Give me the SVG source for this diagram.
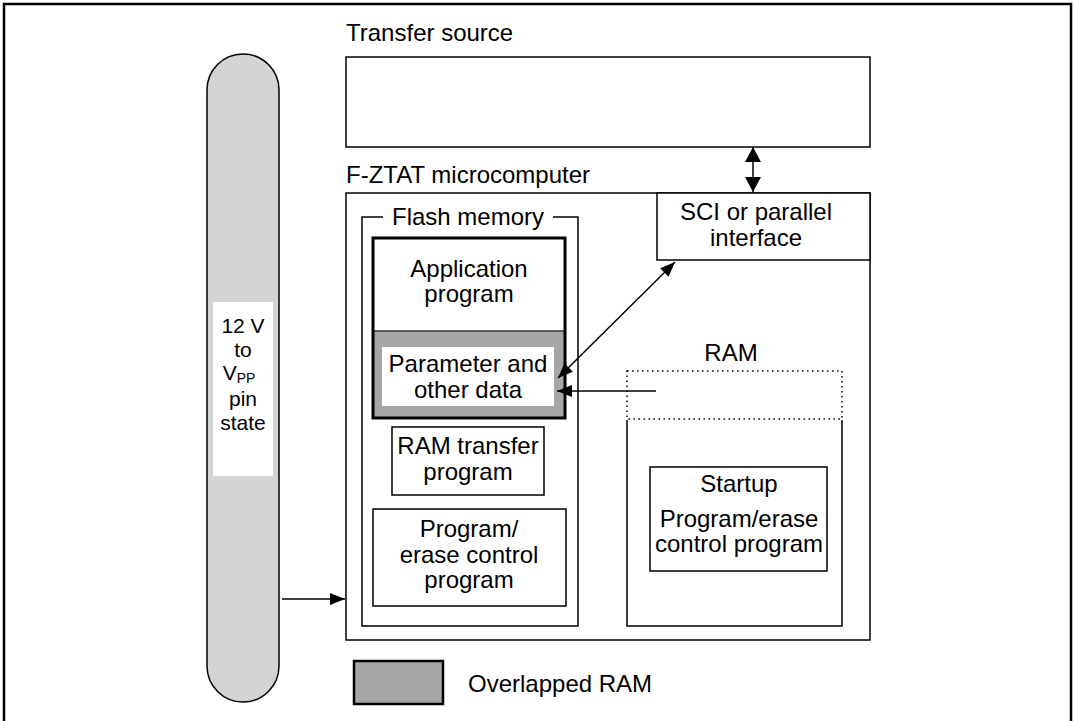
<svg xmlns="http://www.w3.org/2000/svg" width="1074" height="721" viewBox="0 0 1074 721">
<style>
  text { font-family: "Liberation Sans", Arial, sans-serif; font-size: 24px; fill: #000; }
  .c { text-anchor: middle; }
  .pt { font-size: 21px; }
  .box { fill: #fff; stroke: #000; stroke-width: 1.5; }
  .ln { stroke: #000; stroke-width: 1.5; fill: none; }
  .dot { stroke: #000; stroke-width: 1.5; fill: none; stroke-dasharray: 1.5 3.5; }
</style>
<defs>
  <marker id="ah" markerUnits="userSpaceOnUse" markerWidth="16" markerHeight="12" refX="15" refY="6" orient="auto-start-reverse">
    <path d="M0,0 L15,6 L0,12 Z" fill="#000"/>
  </marker>
  <marker id="ahb" markerUnits="userSpaceOnUse" markerWidth="16" markerHeight="16" refX="15" refY="8" orient="auto-start-reverse">
    <path d="M0,0 L15,8 L0,16 Z" fill="#000"/>
  </marker>
</defs>
<rect x="0" y="0" width="1074" height="721" fill="#fff"/>
<rect x="4" y="4" width="1067" height="730" fill="none" stroke="#000" stroke-width="2.5"/>

<g id="vpp">
  <rect x="207" y="54" width="72" height="648" rx="36" ry="36" fill="#d4d4d4" stroke="#000" stroke-width="1.5"/>
  <rect x="213" y="302" width="60" height="174" fill="#fff"/>
  <text class="c pt" x="243" y="333">12 V</text>
  <text class="c pt" x="243" y="357">to</text>
  <text class="c pt" x="239" y="380">V<tspan font-size="14" dy="3">PP</tspan></text>
  <text class="c pt" x="243" y="406">pin</text>
  <text class="c pt" x="243" y="430">state</text>
</g>

<g id="transfer-source">
  <text x="346" y="41">Transfer source</text>
  <rect class="box" x="346" y="57" width="524" height="90"/>
</g>

<g id="fztat">
  <text x="346" y="183">F-ZTAT microcomputer</text>
  <rect class="box" x="346" y="193" width="524" height="447"/>
</g>

<g id="sci">
  <rect class="box" x="657" y="193" width="213" height="67"/>
  <text class="c" x="756" y="220">SCI or parallel</text>
  <text class="c" x="756" y="246">interface</text>
</g>

<g id="flash">
  <path class="ln" d="M383,217 H362 V626 H578 V217 H553"/>
  <text class="c" x="468" y="225">Flash memory</text>
</g>

<g id="app-program">
  <rect x="373" y="238" width="192" height="180" fill="#fff" stroke="none"/>
  <rect x="373" y="331" width="192" height="87" fill="#a6a6a6"/>
  <line x1="373" y1="331" x2="565" y2="331" stroke="#333" stroke-width="1.5"/>
  <rect x="373" y="238" width="192" height="180" fill="none" stroke="#000" stroke-width="3"/>
  <text class="c" x="469" y="277">Application</text>
  <text class="c" x="469" y="302">program</text>
</g>

<g id="param-data">
  <rect x="382" y="347" width="172" height="59" fill="#fff"/>
  <text class="c" x="468" y="372">Parameter and</text>
  <text class="c" x="468" y="398">other data</text>
</g>

<g id="ram-transfer">
  <rect class="box" x="392" y="427" width="152" height="68"/>
  <text class="c" x="468" y="454">RAM transfer</text>
  <text class="c" x="468" y="480">program</text>
</g>

<g id="pe-control">
  <rect class="box" x="373" y="509" width="193" height="97"/>
  <text class="c" x="469" y="537">Program/</text>
  <text class="c" x="469" y="563">erase control</text>
  <text class="c" x="469" y="588">program</text>
</g>

<g id="ram">
  <text class="c" x="731" y="361">RAM</text>
  <rect class="dot" x="627" y="371" width="215" height="48"/>
  <path class="ln" d="M627,420 V626 H842 V420"/>
</g>

<g id="startup">
  <rect class="box" x="650" y="467" width="177" height="104"/>
  <text class="c" x="739" y="492">Startup</text>
  <text class="c" x="739" y="527">Program/erase</text>
  <text class="c" x="739" y="552">control program</text>
</g>

<g id="legend">
  <rect x="354" y="661" width="89" height="43" fill="#a6a6a6" stroke="#000" stroke-width="2.5"/>
  <text x="468" y="692">Overlapped RAM</text>
</g>

<g id="connectors">
  <line x1="753" y1="147" x2="753" y2="192" stroke="#000" stroke-width="1.5" marker-start="url(#ahb)" marker-end="url(#ahb)"/>
  <line x1="675" y1="262" x2="558" y2="378" stroke="#000" stroke-width="1.5" marker-start="url(#ah)" marker-end="url(#ah)"/>
  <line x1="656" y1="391" x2="557" y2="391" stroke="#000" stroke-width="1.5" marker-end="url(#ah)"/>
  <line x1="282" y1="599" x2="345" y2="599" stroke="#000" stroke-width="1.5" marker-end="url(#ah)"/>
</g>
</svg>
